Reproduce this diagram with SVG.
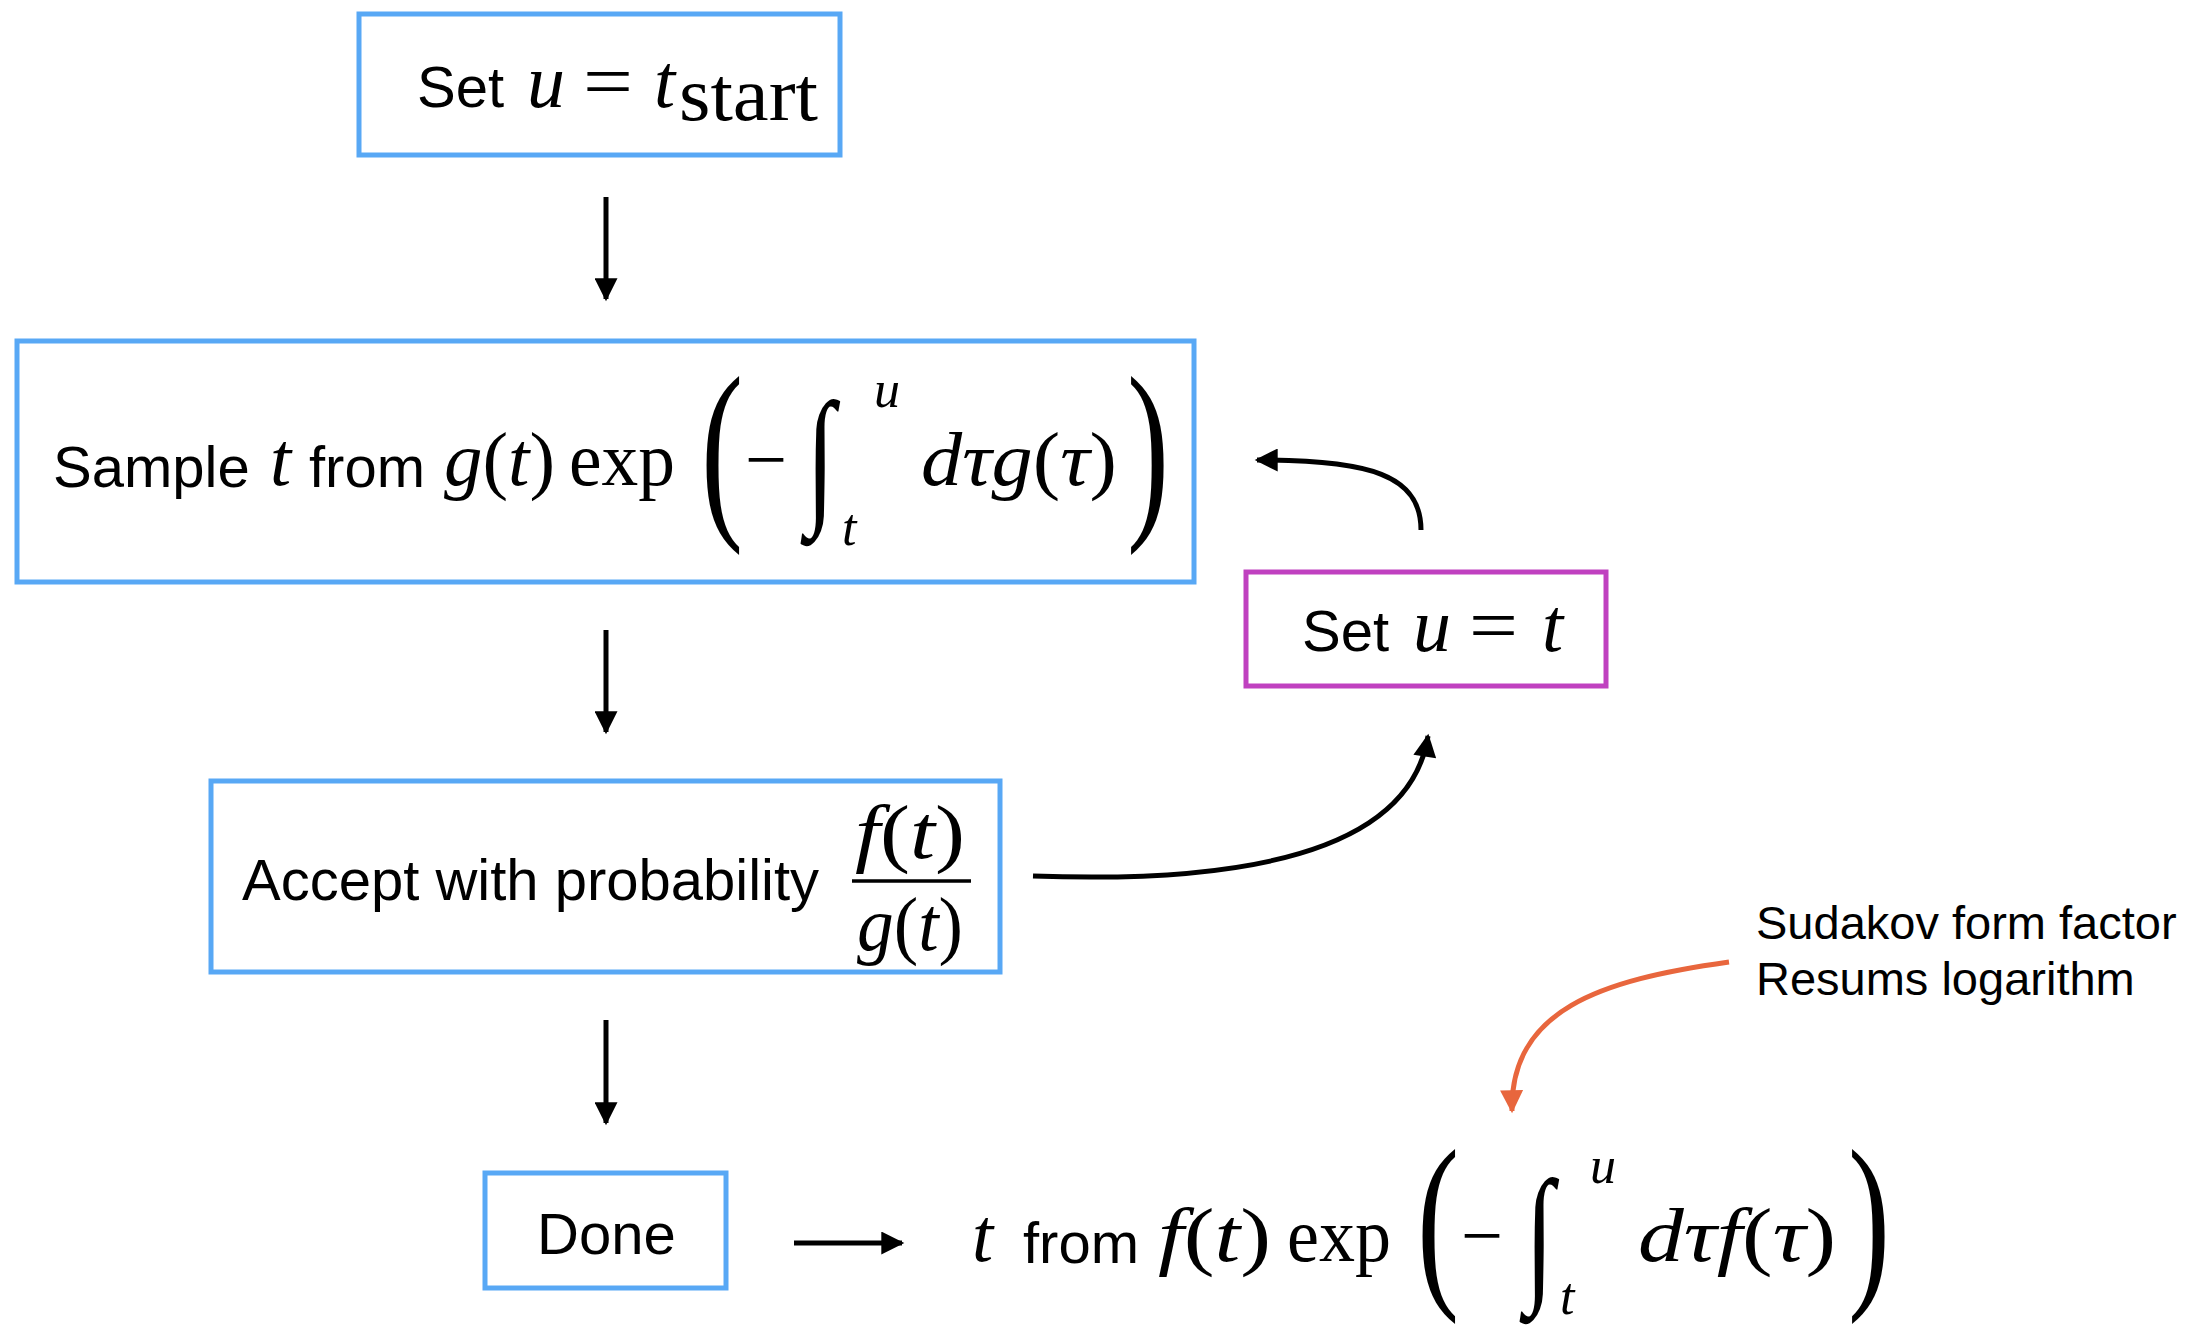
<svg xmlns="http://www.w3.org/2000/svg" width="2204" height="1326" viewBox="0 0 2204 1326">
<defs>
<style>
.box{fill:#fff;stroke:#58A8F5;stroke-width:5}
.box2{fill:#fff;stroke:#C041C0;stroke-width:5}
.s{font-family:"Liberation Sans",Arial,Helvetica,sans-serif;font-size:58px;fill:#000}
.a{font-family:"Liberation Sans",Arial,Helvetica,sans-serif;font-size:47px;fill:#000}
.m{font-family:"Liberation Serif","Times New Roman",serif;font-size:76px;fill:#000}
.i{font-style:italic}
.sc{font-size:52px}
.big{font-family:"Liberation Serif","Times New Roman",serif;font-size:110px;fill:#000}
.int{font-family:"Liberation Serif","Times New Roman",serif;font-size:100px;fill:#000}
.c{fill:none;stroke:#000;stroke-width:5}
.o{fill:none;stroke:#E8663D;stroke-width:5}
</style>
<marker id="ah" viewBox="0 0 10 10" refX="9" refY="5" markerWidth="27" markerHeight="23" markerUnits="userSpaceOnUse" orient="auto"><path d="M0,0 L10,5 L0,10 z" fill="#000"/></marker>
<marker id="ao" viewBox="0 0 10 10" refX="9" refY="5" markerWidth="27" markerHeight="23" markerUnits="userSpaceOnUse" orient="auto"><path d="M0,0 L10,5 L0,10 z" fill="#E8663D"/></marker>
</defs>
<rect width="2204" height="1326" fill="#fff"/>

<g id="connectors">
<line class="c" x1="606" y1="197" x2="606" y2="299" marker-end="url(#ah)"/>
<line class="c" x1="606" y1="630" x2="606" y2="732" marker-end="url(#ah)"/>
<line class="c" x1="606" y1="1020" x2="606" y2="1123" marker-end="url(#ah)"/>
<line class="c" x1="794" y1="1243" x2="902" y2="1243" marker-end="url(#ah)"/>
<path class="c" d="M1033,876 C1250,884 1410,850 1428,736" marker-end="url(#ah)"/>
<path class="c" d="M1421,530 C1421,475 1370,460 1257,460" marker-end="url(#ah)"/>
<path class="o" d="M1729,962 C1600,980 1510,1010 1512,1111" marker-end="url(#ao)"/>
</g>

<g id="node-start">
<rect class="box" x="359" y="14" width="481" height="141"/>
<text class="s" x="417" y="107">Set</text>
<text class="m i" x="527" y="107">u</text>
<text class="m" x="583" y="107" textLength="50" lengthAdjust="spacingAndGlyphs">=</text>
<text class="m i" x="654" y="107">t</text>
<text class="m" x="679" y="120" font-size="56" textLength="139" lengthAdjust="spacingAndGlyphs">start</text>
</g>

<g id="node-sample">
<rect class="box" x="17" y="341" width="1177" height="241"/>
<text class="s" x="53" y="487">Sample</text>
<text class="m i" x="270" y="485">t</text>
<text class="s" x="309" y="487">from</text>
<text class="m" x="444" y="485" textLength="111" lengthAdjust="spacingAndGlyphs"><tspan class="i">g</tspan>(<tspan class="i">t</tspan>)</text>
<text class="m" x="569" y="485" textLength="106" lengthAdjust="spacingAndGlyphs">exp</text>
<text class="big" transform="translate(701,513) scale(1.15,1.8)">(</text>
<text class="m" x="745" y="485" textLength="42" lengthAdjust="spacingAndGlyphs">−</text>
<text class="int" transform="translate(806,506) scale(1.05,1.5)">∫</text>
<text class="m i sc" x="874" y="407">u</text>
<text class="m i sc" x="842" y="545">t</text>
<text class="m" x="921" y="485" textLength="196" lengthAdjust="spacingAndGlyphs"><tspan class="i">dτg</tspan>(<tspan class="i">τ</tspan>)</text>
<text class="big" transform="translate(1127,513) scale(1.15,1.8)">)</text>
</g>

<g id="node-accept">
<rect class="box" x="211" y="781" width="789" height="191"/>
<text class="s" x="242" y="900">Accept with probability</text>
<text class="m" x="855" y="858" font-size="70" textLength="110" lengthAdjust="spacingAndGlyphs"><tspan class="i">f</tspan>(<tspan class="i">t</tspan>)</text>
<line x1="852" y1="881" x2="971" y2="881" stroke="#000" stroke-width="3.5"/>
<text class="m" x="857" y="950" font-size="70" textLength="106" lengthAdjust="spacingAndGlyphs"><tspan class="i">g</tspan>(<tspan class="i">t</tspan>)</text>
</g>

<g id="node-setu">
<rect class="box2" x="1246" y="572" width="360" height="114"/>
<text class="s" x="1302" y="651">Set</text>
<text class="m i" x="1413" y="651">u</text>
<text class="m" x="1469" y="651" textLength="49" lengthAdjust="spacingAndGlyphs">=</text>
<text class="m i" x="1542" y="651">t</text>
</g>

<g id="node-done">
<rect class="box" x="485" y="1173" width="241" height="115"/>
<text class="s" x="537" y="1254">Done</text>
</g>

<g id="result">
<text class="m i" x="972" y="1261">t</text>
<text class="s" x="1023" y="1263">from</text>
<text class="m" x="1158" y="1261" textLength="113" lengthAdjust="spacingAndGlyphs"><tspan class="i">f</tspan>(<tspan class="i">t</tspan>)</text>
<text class="m" x="1287" y="1261" textLength="104" lengthAdjust="spacingAndGlyphs">exp</text>
<text class="big" transform="translate(1417,1283) scale(1.15,1.75)">(</text>
<text class="m" x="1461" y="1261" textLength="42" lengthAdjust="spacingAndGlyphs">−</text>
<text class="int" transform="translate(1525,1284) scale(1.05,1.5)">∫</text>
<text class="m i sc" x="1590" y="1183">u</text>
<text class="m i sc" x="1560" y="1314">t</text>
<text class="m" x="1638" y="1261" textLength="198" lengthAdjust="spacingAndGlyphs"><tspan class="i">dτf</tspan>(<tspan class="i">τ</tspan>)</text>
<text class="big" transform="translate(1848,1283) scale(1.15,1.75)">)</text>
</g>

<g id="note">
<text class="a" x="1756" y="939">Sudakov form factor</text>
<text class="a" x="1756" y="995">Resums logarithm</text>
</g>
</svg>
